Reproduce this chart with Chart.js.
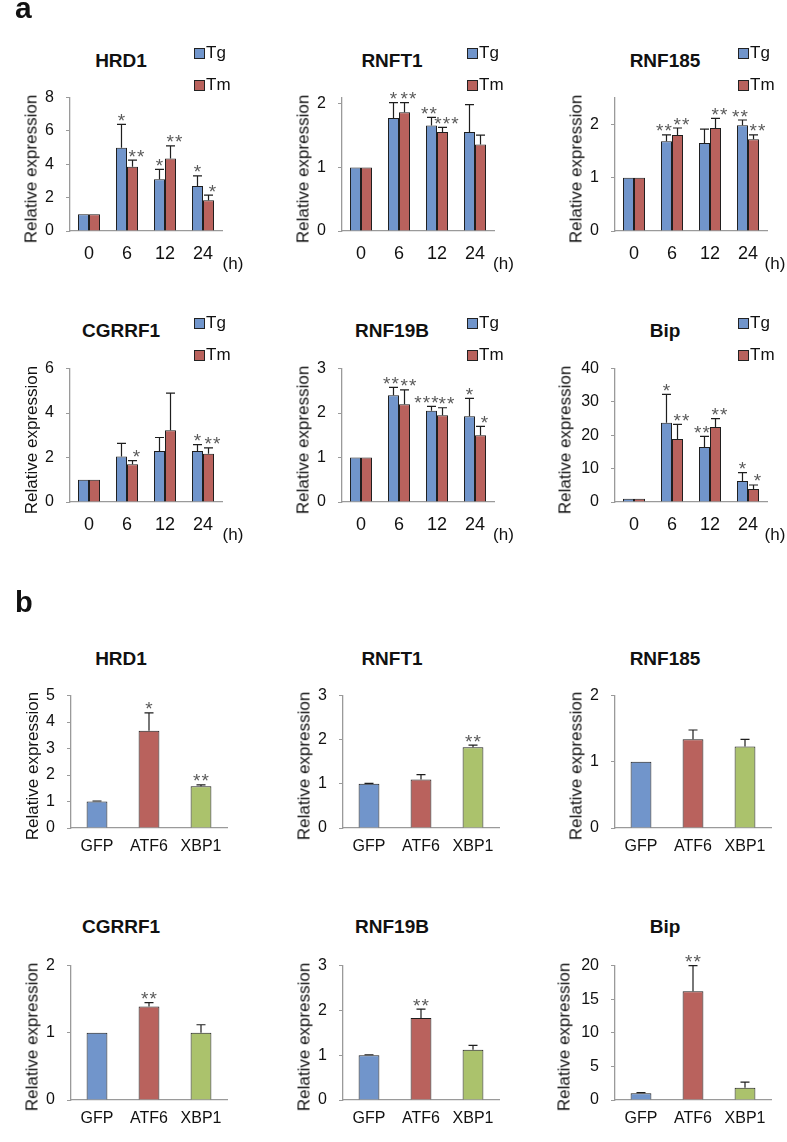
<!DOCTYPE html>
<html>
<head>
<meta charset="utf-8">
<script src="https://cdn.jsdelivr.net/npm/chart.js@4.4.0/dist/chart.umd.min.js"></script>
<style>
  body { margin: 0; background: #fff; }
  #fig { position: relative; width: 787px; height: 1142px; overflow: hidden; background: #fff; }
  #fig canvas { position: absolute; }
  .lbl { position: absolute; white-space: nowrap; color: #111; }
  .sq { position: absolute; width: 9px; height: 9px; border: 1px solid #222; }
</style>
</head>
<body>
<div id="fig"></div>
<script>
// ---- data ----
const hours = ["0", "6", "12", "24"];
const constructs = ["GFP", "ATF6", "XBP1"];
const genes = ["HRD1", "RNFT1", "RNF185", "CGRRF1", "RNF19B", "Bip"];

// a: time course after Tg / Tm treatment (one row per gene)
const tgMean = [
  [1, 5.0, 3.1, 2.7],
  [1, 1.78, 1.66, 1.56],
  [1, 1.68, 1.65, 1.98],
  [1, 2.05, 2.29, 2.29],
  [1, 2.4, 2.05, 1.93],
  [1, 23.8, 16.5, 6.3]
];
const tgSD = [
  [0, 1.4, 0.6, 0.6],
  [0, 0.24, 0.13, 0.43],
  [0, 0.12, 0.26, 0.1],
  [0, 0.59, 0.61, 0.29],
  [0, 0.18, 0.1, 0.4],
  [0, 8.5, 3.2, 2.5]
];
const tmMean = [
  [1, 3.85, 4.35, 1.85],
  [1, 1.87, 1.56, 1.36],
  [1, 1.8, 1.93, 1.72],
  [1, 1.7, 3.23, 2.17],
  [1, 2.2, 1.95, 1.5],
  [1, 18.9, 22.5, 3.9]
];
const tmSD = [
  [0, 0.4, 0.75, 0.3],
  [0, 0.15, 0.07, 0.15],
  [0, 0.13, 0.18, 0.08],
  [0, 0.16, 1.67, 0.26],
  [0, 0.32, 0.17, 0.2],
  [0, 4.4, 2.5, 1.2]
];
const tgStars = [
  ["", "*", "*", "*"],
  ["", "*", "**", ""],
  ["", "**", "", "**"],
  ["", "", "", "*"],
  ["", "**", "***", "*"],
  ["", "*", "**", "*"]
];
const tmStars = [
  ["", "**", "**", "*"],
  ["", "**", "***", ""],
  ["", "**", "**", "**"],
  ["", "*", "", "**"],
  ["", "**", "**", "*"],
  ["", "**", "**", "*"]
];
const yMaxA = [8, 2.1, 2.5, 6, 3, 40];
const yStepA = [2, 1, 1, 2, 1, 10];

// b: overexpression of GFP / ATF6 / XBP1
const overMean = [
  [1, 3.67, 1.58],
  [1, 1.1, 1.83],
  [1, 1.34, 1.23],
  [1, 1.39, 1.0],
  [1, 1.83, 1.12],
  [1, 16.2, 1.83]
];
const overSD = [
  [0.02, 0.68, 0.05],
  [0.01, 0.11, 0.05],
  [0, 0.14, 0.11],
  [0, 0.06, 0.12],
  [0.01, 0.2, 0.1],
  [0.1, 3.8, 0.84]
];
const overStars = [
  ["", "*", "**"],
  ["", "", "**"],
  ["", "", ""],
  ["", "**", ""],
  ["", "**", ""],
  ["", "**", ""]
];
const yMaxB = [5, 3, 2, 2, 3, 20];
const yStepB = [1, 1, 1, 1, 1, 5];

// ---- style / layout ----
const FONT = "'Liberation Sans', Arial, Helvetica, sans-serif";
const BLUE = "#7195cb", RED = "#b9625d", GREEN = "#abc26c", EDGE = "#1e1e1e", AXIS = "#9a9a9a";
const YW = 52, XH = 36, PT = 14, PR = 12;
const colX = [70, 342, 615];
const titleX = [121, 392, 665];

Chart.defaults.font.family = FONT;
Chart.defaults.font.size = 16;
Chart.defaults.color = "#111";

const fig = document.getElementById("fig");

function text(str, x, base, size, weight, center) {
  const d = document.createElement("div");
  d.className = "lbl";
  d.textContent = str;
  d.style.font = weight + " " + size + "px " + FONT;
  d.style.lineHeight = size + "px";
  d.style.top = (base - 0.8465 * size) + "px";
  d.style.left = x + "px";
  if (center) d.style.transform = "translateX(-50%)";
  fig.appendChild(d);
}

function yTitle(cx, cy) {
  const d = document.createElement("div");
  d.className = "lbl";
  d.textContent = "Relative expression";
  d.style.font = "17px " + FONT;
  d.style.lineHeight = "17px";
  d.style.left = cx + "px";
  d.style.top = cy + "px";
  d.style.transform = "translate(-50%, -50%) rotate(-90deg)";
  fig.appendChild(d);
}

function legend(x, y) {
  [["Tg", BLUE], ["Tm", RED]].forEach(function (it, k) {
    const s = document.createElement("div");
    s.className = "sq";
    s.style.left = x + "px";
    s.style.top = (y + k * 32) + "px";
    s.style.background = it[1];
    fig.appendChild(s);
    text(it[0], x + 12, y + k * 32 + 10.5, 17, "normal", false);
  });
}

function makeCanvas(left, top, w, h) {
  const c = document.createElement("canvas");
  c.width = w; c.height = h;
  c.style.left = left + "px"; c.style.top = top + "px";
  c.style.width = w + "px"; c.style.height = h + "px";
  fig.appendChild(c);
  return c;
}

// upper error bars and significance stars
const errorBars = {
  id: "errorBars",
  afterDatasetsDraw(chart) {
    const ctx = chart.ctx, y = chart.scales.y;
    const grouped = chart.data.datasets.length > 1;
    chart.data.datasets.forEach(function (ds, i) {
      chart.getDatasetMeta(i).data.forEach(function (bar, j) {
        const top = y.getPixelForValue(ds.data[j] + ds.sd[j]);
        ctx.save();
        if (ds.sd[j] > 0) {
          ctx.strokeStyle = EDGE;
          ctx.lineWidth = 1.2;
          ctx.beginPath();
          ctx.moveTo(bar.x, bar.y);
          ctx.lineTo(bar.x, top);
          ctx.moveTo(bar.x - 4.5, top);
          ctx.lineTo(bar.x + 4.5, top);
          ctx.stroke();
        }
        const s = ds.stars[j];
        if (s) {
          // stars of the left bar lean left, of the right bar lean right
          let cx = bar.x;
          if (grouped) cx += i === 0 ? -(s.length - 1) * 2.5 : 4;
          ctx.fillStyle = "#5a5a5a";
          ctx.font = "19px " + FONT;
          ctx.textAlign = "center";
          ctx.textBaseline = "alphabetic";
          for (let k = 0; k < s.length; k++) {
            ctx.fillText("*", cx + (k - (s.length - 1) / 2) * 8.5, top + 2.5);
          }
        }
        ctx.restore();
      });
    });
  }
};

function options(max, step, xPad, xSize) {
  return {
    responsive: false,
    animation: false,
    layout: { padding: { top: PT, right: PR, left: 0, bottom: 0 } },
    plugins: { legend: { display: false }, tooltip: { enabled: false } },
    scales: {
      x: {
        grid: { display: false, drawTicks: false },
        border: { color: AXIS, width: 1.3 },
        ticks: { padding: xPad, color: "#111", font: { size: xSize }, autoSkip: false, maxRotation: 0, minRotation: 0 },
        afterFit: function (s) { s.height = XH; }
      },
      y: {
        min: 0,
        max: max,
        ticks: { stepSize: step, padding: 12, color: "#111", font: { size: 16 } },
        afterBuildTicks: function (s) {
          const t = [];
          for (let k = 0; k * step <= max + 1e-9; k++) t.push({ value: k * step });
          s.ticks = t;
        },
        grid: { drawOnChartArea: false, tickLength: 4, color: AXIS },
        border: { color: AXIS, width: 1.3 },
        afterFit: function (s) { s.width = YW; }
      }
    }
  };
}

// axis title sits further out when tick labels have two digits
function titleGap(max) { return max >= 10 ? 50.5 : 39; }

// panel a
const rowA = [{ top: 90, zero: 231, title: 66.7, legend: 48 }, { top: 361, zero: 502, title: 336.7, legend: 318 }];
genes.forEach(function (g, i) {
  const col = i % 3, r = rowA[Math.floor(i / 3)];
  const ax = colX[col], w = 152;
  const c = makeCanvas(ax - YW, r.top - PT, YW + w + PR, r.zero - r.top + PT + XH);
  new Chart(c, {
    type: "bar",
    data: {
      labels: hours,
      datasets: [
        { label: "Tg", data: tgMean[i], sd: tgSD[i], stars: tgStars[i], backgroundColor: BLUE, borderColor: EDGE, borderWidth: 1, categoryPercentage: 0.58, barPercentage: 1 },
        { label: "Tm", data: tmMean[i], sd: tmSD[i], stars: tmStars[i], backgroundColor: RED, borderColor: EDGE, borderWidth: 1, categoryPercentage: 0.58, barPercentage: 1 }
      ]
    },
    options: options(yMaxA[i], yStepA[i], 12, 18),
    plugins: [errorBars]
  });
  text(g, titleX[col], r.title, 19, "bold", true);
  legend([194, 467, 738][col], r.legend);
  text("(h)", [233, 503.5, 775][col], r.zero + 38.5, 17, "normal", true);
  yTitle(ax - titleGap(yMaxA[i]), (r.top + r.zero) / 2 + 8.5);
});

// panel b
const rowB = [{ top: 688, zero: 828, title: 665 }, { top: 958, zero: 1100, title: 933.3 }];
genes.forEach(function (g, i) {
  const col = i % 3, r = rowB[Math.floor(i / 3)];
  const ax = colX[col] + (col === 2 ? 0 : 1), w = 156;
  const c = makeCanvas(ax - YW, r.top - PT, YW + w + PR, r.zero - r.top + PT + XH);
  new Chart(c, {
    type: "bar",
    data: {
      labels: constructs,
      datasets: [
        { label: g, data: overMean[i], sd: overSD[i], stars: overStars[i], backgroundColor: [BLUE, RED, GREEN], borderColor: EDGE, borderWidth: 1, categoryPercentage: 0.8, barPercentage: 0.5 }
      ]
    },
    options: options(yMaxB[i], yStepB[i], 9, 16),
    plugins: [errorBars]
  });
  text(g, titleX[col], r.title, 19, "bold", true);
  yTitle(ax - titleGap(yMaxB[i]) - 0.5, (r.top + r.zero) / 2 + 8);
});

text("a", 15, 18.3, 30, "bold", false);
text("b", 15, 613, 29, "bold", false);
</script>
</body>
</html>
